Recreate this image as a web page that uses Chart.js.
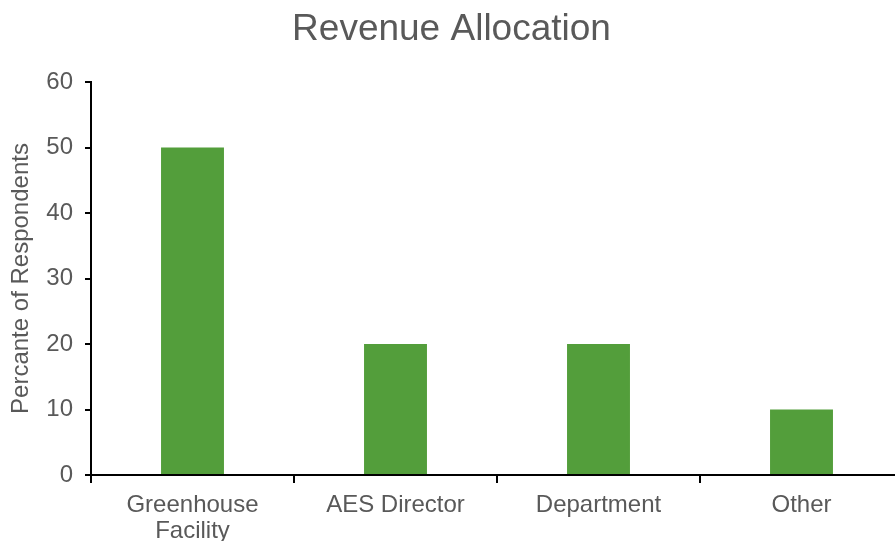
<!DOCTYPE html>
<html>
<head>
<meta charset="utf-8">
<script src="https://cdn.jsdelivr.net/npm/chart.js@4"></script>
<style>
  html, body { margin: 0; padding: 0; background: #fff; overflow: hidden; }
  #wrap { width: 910px; height: 541px; position: relative; }
</style>
</head>
<body>
<div id="wrap"><canvas id="mycanvas"></canvas></div>
<script>
var categories = [["Greenhouse", "Facility"], "AES Director", "Department", "Other"];
var percents = [50, 20, 20, 10];
var yTicks = [0, 10, 20, 30, 40, 50, 60];

var grey = "#595959";
var font = "'Liberation Sans', Arial, sans-serif";

var ctx = document.getElementById("mycanvas");

var chart = new Chart(ctx, {
  type: 'bar',
  data: {
    labels: categories,
    datasets: [
      {
        label: "Percent",
        data: percents,
        backgroundColor: "#539E3B",
        borderWidth: 0,
        barPercentage: 0.31,
        categoryPercentage: 1.0
      }
    ]
  },
  options: {
    responsive: true,
    maintainAspectRatio: false,
    animation: false,
    layout: { padding: { left: 0, right: 7, top: 0, bottom: 0 } },
    plugins: {
      legend: { display: false },
      tooltip: { enabled: false },
      title: {
        display: true,
        text: "Revenue Allocation",
        color: grey,
        font: { family: font, size: 37, weight: 'normal', lineHeight: 1.2 },
        padding: { top: 8, bottom: 29.6 }
      }
    },
    scales: {
      x: {
        offset: true,
        border: { display: true, color: "#000", width: 2 },
        grid: {
          offset: true,
          drawOnChartArea: false,
          drawTicks: true,
          tickLength: 8,
          color: "#000",
          lineWidth: 2
        },
        ticks: {
          color: grey,
          font: { family: font, size: 24, lineHeight: 1.1 },
          padding: 9,
          maxRotation: 0,
          autoSkip: false
        },
        afterFit: function(scale) { scale.height = 66; }
      },
      y: {
        min: 0,
        max: 60,
        border: { display: true, color: "#000", width: 2 },
        grid: {
          drawOnChartArea: false,
          drawTicks: true,
          tickLength: 6,
          color: "#000",
          lineWidth: 2
        },
        ticks: {
          stepSize: 10,
          color: grey,
          font: { family: font, size: 24 },
          padding: 12,
          callback: function(v) { return yTicks.indexOf(v) >= 0 ? v : ""; }
        },
        title: {
          display: true,
          text: "Percante of Respondents",
          color: grey,
          font: { family: font, size: 24 },
          padding: { top: 7, bottom: 0 }
        },
        afterFit: function(scale) { scale.width = 91; }
      }
    }
  }
});
</script>
</body>
</html>
